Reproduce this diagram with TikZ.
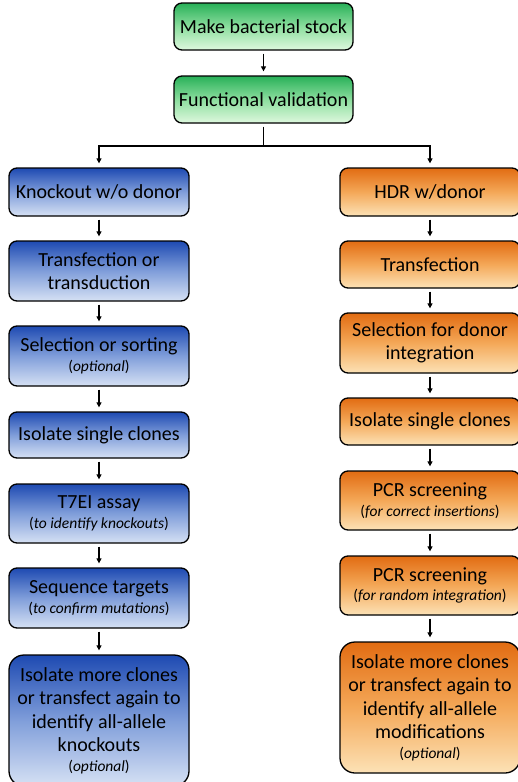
\documentclass[tikz,border=0pt]{standalone}
\usepackage{fontspec}
\setmainfont{Carlito}
\usetikzlibrary{arrows.meta}

\definecolor{gtop}{RGB}{40,176,88}
\definecolor{gmid}{RGB}{140,222,158}
\definecolor{gbot}{RGB}{222,248,222}
\definecolor{kotop}{RGB}{30,74,178}
\definecolor{komid}{RGB}{128,158,218}
\definecolor{kobot}{RGB}{214,225,244}
\definecolor{hdrtop}{RGB}{226,108,18}
\definecolor{hdrmid}{RGB}{244,168,88}
\definecolor{hdrbot}{RGB}{252,226,182}

\newcommand{\subnote}[1]{\\[-4pt]{\fontsize{15.5}{18}\selectfont(\textit{#1})}}

\begin{document}
\begin{tikzpicture}[x=1pt,y=-1pt,
    box/.style={draw=black,line width=1.3pt,rounded corners=8pt,minimum width=180pt,
      align=center,inner sep=1pt,font=\fontsize{20}{23.5}\selectfont},
    gbox/.style={box,minimum width=179pt,top color=gtop,bottom color=gbot,middle color=gmid},
    kobox/.style={box,top color=kotop,bottom color=kobot,middle color=komid},
    hdrbox/.style={box,top color=hdrtop,bottom color=hdrbot,middle color=hdrmid},
    big/.style={rounded corners=15pt},
    arr/.style={line width=1.3pt,-{Triangle[length=5pt,width=5pt]},shorten >=4pt},
    link/.style={arr,shorten <=3pt}]
\useasboundingbox (0,0) rectangle (517,782);

% common start
\node[gbox,minimum height=47pt] (stock) at (263.5,26.5) {Make bacterial stock};
\node[gbox,minimum height=47pt] (valid) at (263.5,99.5) {Functional validation};
\coordinate (split) at (263.5,146);

% knockout without donor
\node[kobox,minimum height=48pt] (ko) at (99,192) {Knockout w/o donor};
\node[kobox,minimum height=60pt] (kotrans) at (99,271) {Transfection or\\transduction};
\node[kobox,minimum height=60pt] (kosel) at (99,356) {Selection or sorting\subnote{optional}};
\node[kobox,minimum height=46pt] (koiso) at (99,435) {Isolate single clones};
\node[kobox,minimum height=59pt] (kot7) at (99,513.5) {T7EI assay\subnote{to identify knockouts}};
\node[kobox,minimum height=60pt] (koseq) at (99,598) {Sequence targets\subnote{to confirm mutations}};
\node[kobox,big,minimum height=131pt] (komore) at (99,720.5)
  {Isolate more clones\\or transfect again to\\identify all-allele\\knockouts\subnote{optional}};

% HDR with donor
\node[hdrbox,minimum height=48pt] (hdr) at (430,192) {HDR w/donor};
\node[hdrbox,minimum height=47pt] (hdrtrans) at (430,264.5) {Transfection};
\node[hdrbox,minimum height=60pt] (hdrsel) at (430,343) {Selection for donor\\integration};
\node[hdrbox,minimum height=47pt] (hdriso) at (430,421.5) {Isolate single clones};
\node[hdrbox,minimum height=59pt] (hdrpcr) at (430,500.5) {PCR screening\subnote{for correct insertions}};
\node[hdrbox,minimum height=59pt] (hdrrnd) at (430,585.5) {PCR screening\subnote{for random integration}};
\node[hdrbox,big,minimum height=131pt] (hdrmore) at (430,707.5)
  {Isolate more clones\\or transfect again to\\identify all-allele\\modifications\subnote{optional}};

% connectors
\draw[link] (stock) -- (valid);
\draw[line width=1.3pt,shorten <=3pt] (valid) -- (split);
\draw[arr] (split) -| (ko);
\draw[arr] (split) -| (hdr);
\foreach \a/\b in {ko/kotrans,kotrans/kosel,kosel/koiso,koiso/kot7,kot7/koseq,koseq/komore,
    hdr/hdrtrans,hdrtrans/hdrsel,hdrsel/hdriso,hdriso/hdrpcr,hdrpcr/hdrrnd,hdrrnd/hdrmore}
  \draw[link] (\a) -- (\b);
\end{tikzpicture}
\end{document}
